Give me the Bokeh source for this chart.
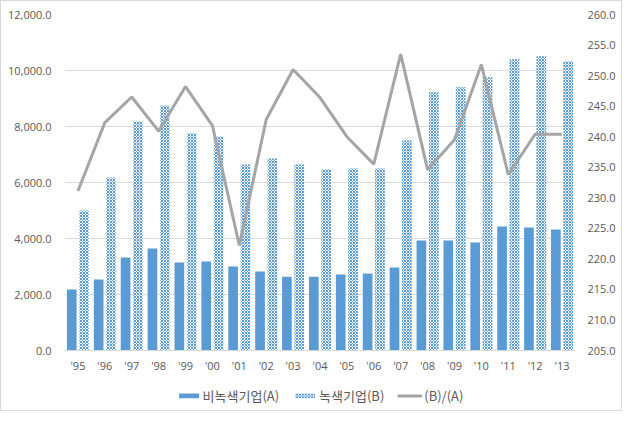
from bokeh.plotting import figure
from bokeh.layouts import column
from bokeh.models import (FactorRange, Range1d, LinearAxis, NumeralTickFormatter,
                          SingleIntervalTicker, Legend, LegendItem, ColumnDataSource)
from bokeh.transform import dodge
from bokeh.embed import file_html
from bokeh.resources import INLINE

years = ["'95", "'96", "'97", "'98", "'99", "'00", "'01", "'02", "'03", "'04",
         "'05", "'06", "'07", "'08", "'09", "'10", "'11", "'12", "'13"]
non_green_a = [2180, 2540, 3320, 3640, 3140, 3180, 3000, 2820, 2630, 2630,
               2710, 2750, 2960, 3930, 3930, 3860, 4430, 4390, 4320]
green_b = [5000, 6180, 8180, 8750, 7760, 7640, 6640, 6860, 6640, 6470,
           6500, 6500, 7500, 9220, 9400, 9760, 10400, 10510, 10330]
ratio_ba = [231.1, 242.3, 246.5, 240.9, 248.2, 241.8, 222.2, 242.8, 251.0, 246.4,
            240.0, 235.5, 253.5, 234.6, 239.5, 251.8, 233.8, 240.4, 240.4]
name_a = "비녹색기업(A)"
name_b = "녹색기업(B)"
name_r = "(B)/(A)"

src = ColumnDataSource(dict(year=years, a=non_green_a, b=green_b, r=ratio_ba))

LABEL_FONT = "Open Sans"
LABEL_COLOR = "#595959"
BLUE = "#5B9BD5"
GRAY = "#A5A5A5"
A_STYLE = dict(fill_color=BLUE, line_color=None)
B_STYLE = dict(fill_color="#F2F7FC", line_color=None, hatch_pattern="diagonal_cross",
               hatch_color=BLUE, hatch_scale=3, hatch_weight=1)
R_STYLE = dict(line_color=GRAY, line_width=3)

p = figure(width=620, height=379, x_range=FactorRange(*years),
           y_range=Range1d(0, 12000), output_backend="svg", toolbar_location=None,
           min_border_left=63, min_border_right=46, min_border_top=13,
           min_border_bottom=30)
p.outline_line_color = None
p.extra_y_ranges = {"r": Range1d(205, 260)}

p.vbar(x=dodge("year", -0.23, range=p.x_range), top="a", width=0.36,
       source=src, **A_STYLE)
p.vbar(x=dodge("year", 0.23, range=p.x_range), top="b", width=0.36,
       source=src, **B_STYLE)
p.line(x="year", y="r", source=src, y_range_name="r", **R_STYLE)

p.xaxis.axis_line_color = "#D9D9D9"
p.xaxis.major_tick_line_color = None
p.xaxis.major_tick_out = 0
p.xaxis.major_tick_in = 0
p.xaxis.major_label_standoff = 7
p.xaxis.major_label_text_font = LABEL_FONT
p.xaxis.major_label_text_font_size = "11px"
p.xaxis.major_label_text_color = LABEL_COLOR

p.yaxis.ticker = SingleIntervalTicker(interval=2000)
p.yaxis.formatter = NumeralTickFormatter(format="0,0.0")
p.yaxis.axis_line_color = None
p.yaxis.major_tick_line_color = None
p.yaxis.minor_tick_line_color = None
p.yaxis.major_tick_out = 0
p.yaxis.major_label_standoff = 9
p.yaxis.major_label_text_font = LABEL_FONT
p.yaxis.major_label_text_font_size = "11px"
p.yaxis.major_label_text_color = LABEL_COLOR

ax2 = LinearAxis(y_range_name="r", ticker=SingleIntervalTicker(interval=5),
                 formatter=NumeralTickFormatter(format="0.0"))
ax2.axis_line_color = None
ax2.major_tick_line_color = None
ax2.minor_tick_line_color = None
ax2.major_tick_out = 0
ax2.major_label_standoff = 8
ax2.major_label_text_font = LABEL_FONT
ax2.major_label_text_font_size = "11px"
ax2.major_label_text_color = LABEL_COLOR
p.add_layout(ax2, "right")

p.xgrid.grid_line_color = None
p.ygrid.grid_line_color = "#D9D9D9"

# legend strip below the chart (swatch renderers hold one off-range point)
lg = figure(width=620, height=30, x_range=Range1d(0, 1), y_range=Range1d(0, 1),
            output_backend="svg", toolbar_location=None,
            x_axis_location=None, y_axis_location=None,
            min_border_left=0, min_border_right=0, min_border_top=0,
            min_border_bottom=0)
lg.outline_line_color = None
lg.grid.grid_line_color = None
la = lg.vbar(x=[-10], top=[-10], width=0.1, **A_STYLE)
lb = lg.vbar(x=[-10], top=[-10], width=0.1, **B_STYLE)
lr = lg.line(x=[-10, -9], y=[-10, -10], **R_STYLE)

legend = Legend(items=[LegendItem(label=name_a, renderers=[la]),
                       LegendItem(label=name_b, renderers=[lb]),
                       LegendItem(label=name_r, renderers=[lr])],
                orientation="horizontal", location="center")
legend.label_text_font = "Noto Sans CJK KR"
legend.label_text_font_size = "13px"
legend.label_text_color = LABEL_COLOR
legend.glyph_width = 25
legend.glyph_height = 6
legend.label_standoff = 2
legend.spacing = 13
legend.padding = 2
legend.margin = 0
legend.border_line_color = None
legend.background_fill_alpha = 0
lg.add_layout(legend)

layout = column(p, lg, spacing=0)
layout.styles = {"border": "1px solid #d9d9d9"}

open("out.html", "w").write(file_html(layout, INLINE))
